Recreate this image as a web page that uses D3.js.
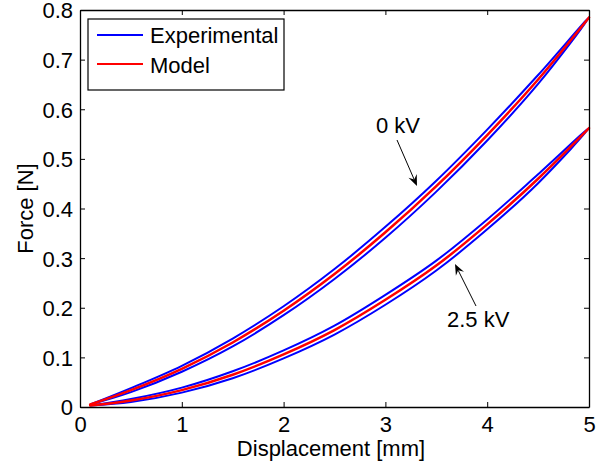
<!DOCTYPE html>
<html>
<head>
<meta charset="utf-8">
<script src="https://cdn.jsdelivr.net/npm/d3@7"></script>
<style>
  html, body { margin: 0; padding: 0; background: #fff; }
  svg { display: block; font-family: "Liberation Sans", Arial, sans-serif; }
</style>
</head>
<body>
<svg id="chart" width="601" height="466"></svg>
<script>
// Displacement samples [mm]
const displacement = [0.1, 0.5, 1, 1.5, 2, 2.5, 3, 3.5, 4, 4.5, 5];

// 0 kV: model and measured loading / unloading branches [N]
const model0kV     = [0.005, 0.034, 0.077, 0.130, 0.194, 0.268, 0.352, 0.445, 0.548, 0.660, 0.785];
const expLoad0kV   = [0.005, 0.038, 0.083, 0.138, 0.203, 0.278, 0.363, 0.456, 0.559, 0.669, 0.785];
const expUnload0kV = [0.005, 0.030, 0.071, 0.122, 0.185, 0.258, 0.341, 0.434, 0.537, 0.651, 0.785];

// 2.5 kV: model and measured loading / unloading branches [N]
const model25kV     = [0.003, 0.013, 0.034, 0.065, 0.106, 0.155, 0.216, 0.285, 0.368, 0.460, 0.562];
const expLoad25kV   = [0.003, 0.016, 0.039, 0.072, 0.114, 0.164, 0.226, 0.295, 0.378, 0.469, 0.562];
const expUnload25kV = [0.003, 0.010, 0.029, 0.058, 0.098, 0.146, 0.206, 0.275, 0.358, 0.451, 0.562];

const xTicks = [0, 1, 2, 3, 4, 5];
const yTicks = [0, 0.1, 0.2, 0.3, 0.4, 0.5, 0.6, 0.7, 0.8];

const svg = d3.select("#chart");
const plotLeft = 80, plotRight = 589, plotTop = 10, plotBottom = 407;

const x = d3.scaleLinear().domain([0, 5]).range([plotLeft, plotRight]);
const y = d3.scaleLinear().domain([0, 0.8]).range([plotBottom, plotTop]);

const line = d3.line()
  .x(d => x(d[0]))
  .y(d => y(d[1]))
  .curve(d3.curveCatmullRom.alpha(0.5));

function loop(load, unload) {
  const up = displacement.map((d, i) => [d, load[i]]);
  const down = displacement.map((d, i) => [d, unload[i]]).reverse();
  return up.concat(down.slice(1));
}

const plot = svg.append("g");

// Measured hysteresis loops
[[expLoad0kV, expUnload0kV], [expLoad25kV, expUnload25kV]].forEach(([l, u]) => {
  plot.append("path")
    .attr("d", line(loop(l, u)))
    .attr("fill", "none")
    .attr("stroke", "#0000ff")
    .attr("stroke-width", 2)
    .attr("stroke-linejoin", "round");
});

// Model curves
[model0kV, model25kV].forEach(m => {
  plot.append("path")
    .attr("d", line(displacement.map((d, i) => [d, m[i]])))
    .attr("fill", "none")
    .attr("stroke", "#ff0000")
    .attr("stroke-width", 2.5)
    .attr("stroke-linecap", "round");
});

// Axes box with inward ticks on all four sides
const tickLen = 5;
const fontSize = 22;

const axB = svg.append("g").attr("transform", `translate(0,${plotBottom})`)
  .call(d3.axisBottom(x).tickValues(xTicks).tickSizeInner(-tickLen).tickSizeOuter(0).tickFormat(d3.format("d")));
const axT = svg.append("g").attr("transform", `translate(0,${plotTop})`)
  .call(d3.axisTop(x).tickValues(xTicks).tickSizeInner(-tickLen).tickSizeOuter(0).tickFormat(""));
const axL = svg.append("g").attr("transform", `translate(${plotLeft},0)`)
  .call(d3.axisLeft(y).tickValues(yTicks).tickSizeInner(-tickLen).tickSizeOuter(0).tickFormat(d => d === 0 ? "0" : d3.format(".1f")(d)));
const axR = svg.append("g").attr("transform", `translate(${plotRight},0)`)
  .call(d3.axisRight(y).tickValues(yTicks).tickSizeInner(-tickLen).tickSizeOuter(0).tickFormat(""));

[axB, axT, axL, axR].forEach(g => {
  g.selectAll(".domain").attr("stroke", "#000").attr("stroke-width", 1.3);
  g.selectAll(".tick line").attr("stroke", "#000").attr("stroke-width", 1);
  g.selectAll("text").attr("fill", "#000").style("font-size", fontSize + "px")
    .style("font-family", "'Liberation Sans', Arial, sans-serif");
});
axB.selectAll(".tick text").attr("dy", null).attr("y", 25);
axL.selectAll(".tick text").attr("x", -7).attr("dy", "0.36em");

// Axis titles
svg.append("text")
  .attr("x", 331).attr("y", 456)
  .attr("text-anchor", "middle").style("font-size", fontSize + "px")
  .text("Displacement [mm]");
svg.append("text")
  .attr("transform", `translate(33,${(plotTop + plotBottom) / 2}) rotate(-90)`)
  .attr("text-anchor", "middle").style("font-size", fontSize + "px")
  .text("Force [N]");

// Legend
const lg = svg.append("g");
lg.append("rect").attr("x", 88).attr("y", 19).attr("width", 196).attr("height", 71)
  .attr("fill", "#fff").attr("stroke", "#000").attr("stroke-width", 1.2);
[["Experimental", "#0000ff", 35, 43], ["Model", "#ff0000", 64, 73]].forEach(([label, color, yy, ty]) => {
  lg.append("line").attr("x1", 97).attr("x2", 143).attr("y1", yy).attr("y2", yy)
    .attr("stroke", color).attr("stroke-width", 2);
  lg.append("text").attr("x", 150).attr("y", ty).style("font-size", fontSize + "px").text(label);
});

// Annotation arrows
function arrow(x1, y1, x2, y2) {
  const ang = Math.atan2(y2 - y1, x2 - x1);
  const L = 11, W = 4.5, back = 7;
  const bx = x2 - L * Math.cos(ang), by = y2 - L * Math.sin(ang);
  const nx = -Math.sin(ang), ny = Math.cos(ang);
  const mx = x2 - back * Math.cos(ang), my = y2 - back * Math.sin(ang);
  svg.append("line").attr("x1", x1).attr("y1", y1).attr("x2", mx).attr("y2", my)
    .attr("stroke", "#000").attr("stroke-width", 1);
  svg.append("path")
    .attr("d", `M${x2},${y2} L${bx + W * nx},${by + W * ny} L${mx},${my} L${bx - W * nx},${by - W * ny} Z`)
    .attr("fill", "#000");
}
arrow(397, 140, 417, 186);
arrow(476, 306, 455, 264);

svg.append("text").attr("x", 376).attr("y", 133).style("font-size", fontSize + "px").text("0 kV");
svg.append("text").attr("x", 447).attr("y", 327).style("font-size", fontSize + "px").text("2.5 kV");
</script>
</body>
</html>
